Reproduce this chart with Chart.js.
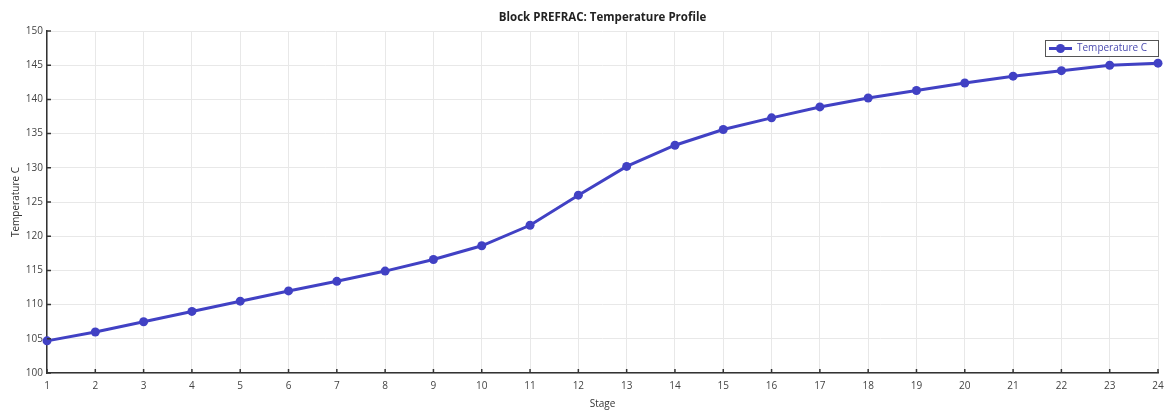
<!DOCTYPE html>
<html><head><meta charset="utf-8">
<script src="https://cdn.jsdelivr.net/npm/chart.js@4"></script>
<style>html,body{margin:0;padding:0;background:#fff;}canvas{display:block;}</style>
</head><body>
<canvas id="c" width="1165" height="410"></canvas>
<script>
const stages = [1,2,3,4,5,6,7,8,9,10,11,12,13,14,15,16,17,18,19,20,21,22,23,24];
const temperatureC = [104.7,106.0,107.5,109.0,110.5,112.0,113.4,114.9,116.6,118.6,121.6,126.0,130.2,133.3,135.6,137.3,138.9,140.2,141.3,142.4,143.4,144.2,145.0,145.3];
const yTicks = [100,105,110,115,120,125,130,135,140,145,150];
const seriesName = 'Temperature C';
const chartTitle = 'Block PREFRAC: Temperature Profile';
const lineColor = '#4141c4';
const FONT = '"Open Sans", "Noto Sans", sans-serif';

const decor = {
  id: 'decor',
  afterDraw(chart) {
    const ctx = chart.ctx, a = chart.chartArea;
    const xs = chart.scales.x, ys = chart.scales.y;
    ctx.save();
    // title centred over plot area
    ctx.fillStyle = '#222'; ctx.font = 'bold 11.5px ' + FONT;
    ctx.textAlign = 'center'; ctx.textBaseline = 'middle';
    ctx.fillText(chartTitle, (a.left + a.right) / 2, 18);
    // inward ticks
    ctx.strokeStyle = '#333'; ctx.lineWidth = 1.5;
    ctx.beginPath();
    stages.forEach((s, i) => { const px = xs.getPixelForValue(i); ctx.moveTo(px, a.bottom); ctx.lineTo(px, a.bottom - 4); });
    yTicks.forEach(v => { const py = ys.getPixelForValue(v); ctx.moveTo(a.left, py); ctx.lineTo(a.left + 4, py); });
    ctx.stroke();
    // legend
    const bx = 1045, by = 40, bw = 113, bh = 16;
    ctx.fillStyle = '#fff'; ctx.fillRect(bx, by, bw, bh);
    ctx.strokeStyle = '#555'; ctx.lineWidth = 1; ctx.strokeRect(bx + 0.5, by + 0.5, bw, bh);
    ctx.strokeStyle = lineColor; ctx.lineWidth = 3;
    ctx.beginPath(); ctx.moveTo(bx + 4, by + 8.5); ctx.lineTo(bx + 27, by + 8.5); ctx.stroke();
    ctx.fillStyle = lineColor; ctx.beginPath(); ctx.arc(bx + 15.5, by + 8.5, 4.5, 0, Math.PI * 2); ctx.fill();
    ctx.fillStyle = '#4a4ab0'; ctx.font = '10px ' + FONT; ctx.textBaseline = 'middle'; ctx.textAlign = 'left';
    ctx.fillText(seriesName, bx + 32, by + 8.5);
    ctx.restore();
  }
};

new Chart(document.getElementById('c'), {
  type: 'line',
  data: {
    labels: stages,
    datasets: [{
      label: seriesName,
      data: temperatureC,
      borderColor: lineColor,
      backgroundColor: lineColor,
      borderWidth: 3,
      pointRadius: 4.5,
      pointBackgroundColor: lineColor,
      pointBorderWidth: 0,
      tension: 0,
      clip: false
    }]
  },
  options: {
    responsive: false,
    animation: false,
    layout: { padding: { top: 31, left: 0, right: 7, bottom: 0 } },
    plugins: {
      legend: { display: false },
      tooltip: { enabled: false },
      title: { display: false }
    },
    scales: {
      x: {
        offset: false,
        grid: { color: '#e8e8e8', drawTicks: false },
        border: { display: true, color: '#333', width: 1.5 },
        ticks: { color: '#444', font: { family: FONT, size: 10 }, padding: 7, maxRotation: 0, autoSkip: false },
        title: { display: true, text: 'Stage', color: '#333', font: { family: FONT, size: 10 }, padding: { top: 1, bottom: 0 } },
        afterFit(s) { s.height = 37; s.paddingRight = 0; s.paddingLeft = 0; }
      },
      y: {
        min: 100, max: 150,
        afterBuildTicks(s) { s.ticks = yTicks.map(v => ({ value: v })); },
        grid: { color: '#e8e8e8', drawTicks: false },
        border: { display: true, color: '#333', width: 1.5 },
        ticks: { color: '#444', font: { family: FONT, size: 10 }, padding: 4 },
        title: { display: true, text: 'Temperature C', color: '#333', font: { family: FONT, size: 10 }, padding: { top: 10, bottom: 0 } },
        afterFit(s) { s.width = 47; s.paddingTop = 0; s.paddingBottom = 0; }
      }
    }
  },
  plugins: [decor]
});
</script>
</body></html>
